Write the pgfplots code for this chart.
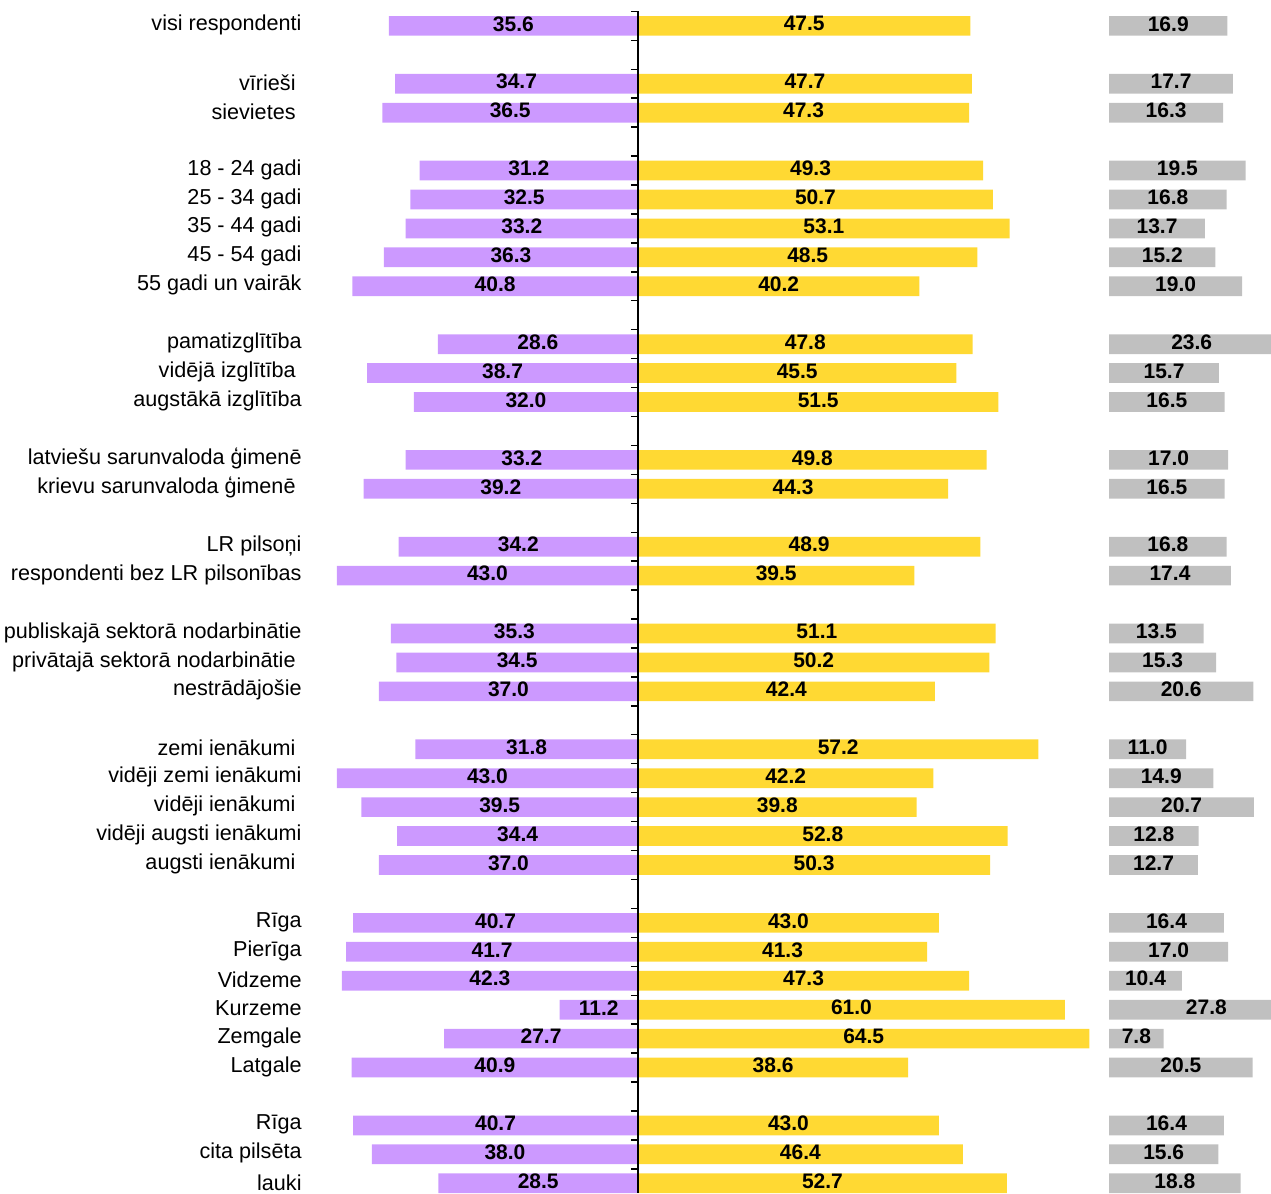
\documentclass[border=0pt]{standalone}
\usepackage{fontspec}
\setmainfont{Liberation Sans}
\usepackage{pgfplots}
\usepackage{pgfplotstable}
\pgfplotsset{compat=1.18}

\definecolor{lila}{HTML}{CC99FF}
\definecolor{dzeltens}{HTML}{FFD933}
\definecolor{greybar}{HTML}{C0C0C0}

\newcommand\lbl{\fontsize{10.5}{12.6}\selectfont}
\newcommand\cat{\fontsize{10.8}{13}\selectfont}
\newcommand\tsp{\kern3pt}

% row: position from the top (empty rows are gaps); neg = purple, pos = yellow, grey = grey
\pgfplotstableread{
row neg pos grey
0 35.6 47.5 16.9
2 34.7 47.7 17.7
3 36.5 47.3 16.3
5 31.2 49.3 19.5
6 32.5 50.7 16.8
7 33.2 53.1 13.7
8 36.3 48.5 15.2
9 40.8 40.2 19.0
11 28.6 47.8 23.6
12 38.7 45.5 15.7
13 32.0 51.5 16.5
15 33.2 49.8 17.0
16 39.2 44.3 16.5
18 34.2 48.9 16.8
19 43.0 39.5 17.4
21 35.3 51.1 13.5
22 34.5 50.2 15.3
23 37.0 42.4 20.6
25 31.8 57.2 11.0
26 43.0 42.2 14.9
27 39.5 39.8 20.7
28 34.4 52.8 12.8
29 37.0 50.3 12.7
31 40.7 43.0 16.4
32 41.7 41.3 17.0
33 42.3 47.3 10.4
34 11.2 61.0 27.8
35 27.7 64.5 7.8
36 40.9 38.6 20.5
38 40.7 43.0 16.4
39 38.0 46.4 15.6
40 28.5 52.7 18.8
}\dati

\pgfplotsset{
  rows/.style={
    anchor=north east, at={(0,0)},
    scale only axis, height=590.8pt,
    xmax=90.43, ymin=-0.5, ymax=40.337,
    y dir=reverse,
  },
  vals/.style={draw=none, nodes near coords, point meta=explicit symbolic,
    nodes near coords style={font=\lbl\bfseries, anchor=center, inner sep=0pt, yshift=1pt}},
}

\begin{document}
\begin{tikzpicture}
\begin{axis}[
  rows, width=481pt, xmin=-47,
  axis x line=none,
  axis y line*=left,
  y axis line style={draw=none},
  ytick style={draw=none},
  ytick={0,2,3,5,6,7,8,9,11,12,13,15,16,18,19,21,22,23,25,26,27,28,29,31,32,33,34,35,36,38,39,40},
  yticklabels={visi respondenti, vīrieši\tsp, sievietes\tsp,
    18 - 24 gadi, 25 - 34 gadi, 35 - 44 gadi, 45 - 54 gadi, 55 gadi un vairāk,
    pamatizglītība, vidējā izglītība\tsp, augstākā izglītība,
    latviešu sarunvaloda ģimenē, krievu sarunvaloda ģimenē\tsp,
    LR pilsoņi, respondenti bez LR pilsonības,
    publiskajā sektorā nodarbinātie, privātajā sektorā nodarbinātie\tsp, nestrādājošie,
    zemi ienākumi\tsp, vidēji zemi ienākumi, vidēji ienākumi\tsp, vidēji augsti ienākumi, augsti ienākumi\tsp,
    Rīga, Pierīga, Vidzeme, Kurzeme, Zemgale, Latgale,
    Rīga, cita pilsēta, lauki},
  yticklabel style={font=\cat, anchor=east, inner sep=0pt, xshift=-3.5pt, yshift=0.5pt},
  bar width=9.85pt,
]
\addplot[xbar, bar shift=0pt, fill=lila, draw=none] table[x expr=-\thisrow{neg}, y=row] \dati;
\addplot[xbar, bar shift=0pt, fill=dzeltens, draw=none] table[x=pos, y=row] \dati;
\addplot[vals] table[x expr=-\thisrow{neg}/2, y=row, meta=neg] \dati;
\addplot[vals] table[x expr=\thisrow{pos}/2, y=row, meta=pos] \dati;
\coordinate (tl) at (axis cs:-91.143,-0.893);
\coordinate (br) at (axis cs:90.43,40.337);
\end{axis}

\begin{axis}[
  rows, width=316.5pt, xmin=0,
  axis x line=none,
  axis y line*=left,
  ytick={-0.5,0.5,...,40.5}, yticklabels={},
  tick align=outside, major tick length=3.5pt,
  y axis line style={black, line width=0.7pt},
  ytick style={black, line width=0.7pt},
  xbar stacked, bar width=9.85pt,
]
\addplot[draw=none, fill=none] table[x expr=67.3, y=row] \dati;
\addplot[fill=greybar, draw=none] table[x=grey, y=row] \dati;
\end{axis}

\begin{axis}[rows, width=316.5pt, xmin=0, hide axis]
\addplot[vals] table[x expr=67.3+\thisrow{grey}/2, y=row, meta=grey] \dati;
\end{axis}

\pgfresetboundingbox
\path[use as bounding box] (tl) rectangle (br);
\end{tikzpicture}
\end{document}
